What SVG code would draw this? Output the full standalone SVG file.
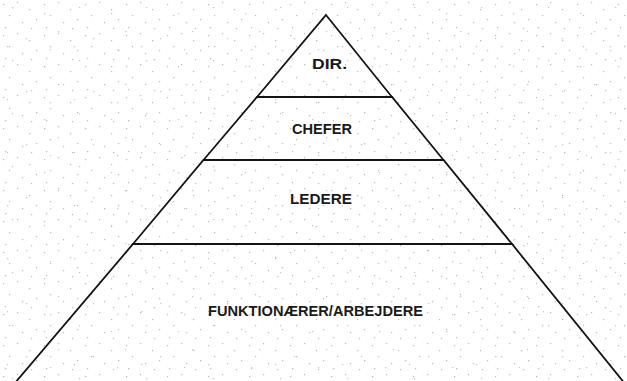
<svg xmlns="http://www.w3.org/2000/svg" width="627" height="381" viewBox="0 0 627 381">
  <style>
    .tier { fill: none; stroke: #141414; stroke-width: 1.8; stroke-linejoin: miter; }
    .lbl { font-family: "Liberation Sans", Arial, sans-serif; font-weight: bold; font-size: 14.5px; fill: #1a1a1a; }
  </style>
  <defs>
    <pattern id="dotsA" width="41" height="31" patternUnits="userSpaceOnUse">
      <g fill="#9a9a9a">
        <rect x="3" y="4" width="1.2" height="1.2"/>
        <rect x="17" y="2" width="1.2" height="1.2"/>
        <rect x="29" y="9" width="1.2" height="1.2"/>
        <rect x="9" y="15" width="1.2" height="1.2"/>
        <rect x="36" y="19" width="1.2" height="1.2"/>
        <rect x="22" y="22" width="1.2" height="1.2"/>
        <rect x="5" y="27" width="1.2" height="1.2"/>
        <rect x="31" y="28" width="1.2" height="1.2"/>
      </g>
    </pattern>
    <pattern id="dotsB" width="67" height="53" patternUnits="userSpaceOnUse">
      <g fill="#aaaaaa">
        <rect x="12" y="7" width="1.2" height="1.2"/>
        <rect x="44" y="13" width="1.2" height="1.2"/>
        <rect x="58" y="31" width="1.2" height="1.2"/>
        <rect x="26" y="38" width="1.2" height="1.2"/>
        <rect x="7" y="46" width="1.2" height="1.2"/>
        <rect x="50" y="49" width="1.2" height="1.2"/>
      </g>
    </pattern>
  </defs>

  <rect x="0" y="0" width="627" height="381" fill="#ffffff"/>
  <rect x="0" y="0" width="627" height="381" fill="url(#dotsA)" opacity="0.7"/>
  <rect x="0" y="0" width="627" height="381" fill="url(#dotsB)" opacity="0.7"/>

  <g id="tier-dir">
    <polygon class="tier" points="326,15 392,97 257,97"/>
    <text class="lbl" x="312" y="69" textLength="35" lengthAdjust="spacingAndGlyphs">DIR.</text>
  </g>
  <g id="tier-chefer">
    <polygon class="tier" points="257,97 392,97 443.5,160 203.5,160"/>
    <text class="lbl" x="292" y="134" textLength="60" lengthAdjust="spacingAndGlyphs">CHEFER</text>
  </g>
  <g id="tier-ledere">
    <polygon class="tier" points="203.5,160 443.5,160 512,244 133,244"/>
    <text class="lbl" x="290" y="204" textLength="62" lengthAdjust="spacingAndGlyphs">LEDERE</text>
  </g>
  <g id="tier-funktionaerer">
    <polygon class="tier" points="133,244 512,244 630,390 9,390"/>
    <text class="lbl" x="208" y="316" textLength="215" lengthAdjust="spacingAndGlyphs">FUNKTIONÆRER/ARBEJDERE</text>
  </g>
  <g id="connectors"/>
</svg>
